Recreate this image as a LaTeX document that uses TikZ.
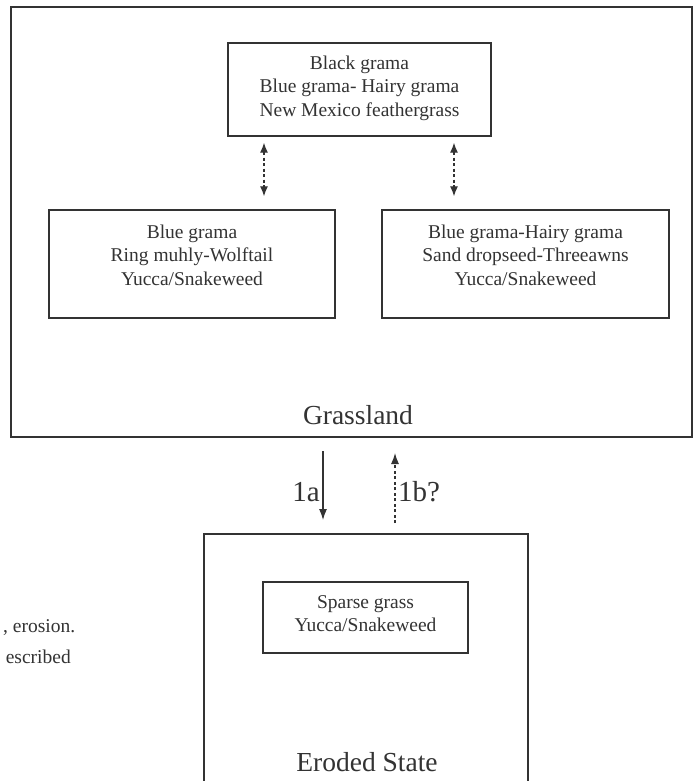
\documentclass[tikz,border=0pt]{standalone}
\usepackage{fontspec}
\setmainfont{Liberation Serif}
\usetikzlibrary{arrows.meta}
\definecolor{ink}{HTML}{333333}
\tikzset{
  bigbox/.style={draw=ink, line width=2pt, inner sep=0pt},
  smallbox/.style={draw=ink, line width=1.4pt, inner sep=0pt},
  txt/.style={text=ink, align=center, font=\fontsize{19.5}{23.5}\selectfont, inner sep=0pt},
  title/.style={text=ink, font=\fontsize{27.5}{30}\selectfont, inner sep=0pt},
  tip/.style={},
  dasharr/.style={draw=ink, line width=1.2pt, dash pattern=on 3pt off 2.5pt, {Latex[length=10pt,width=8pt,sep=0pt]}-{Latex[length=10pt,width=8pt]}},
  solidarr/.style={draw=ink, line width=1.2pt, -{Latex[length=11pt,width=8pt]}},
  dashup/.style={draw=ink, line width=1.2pt, dash pattern=on 3pt off 2.5pt, -{Latex[length=11pt,width=8pt]}}
}
\begin{document}
\begin{tikzpicture}[x=1pt,y=-1pt]
\useasboundingbox (0,0) rectangle (694,781);
\clip (0,0) rectangle (694,781);
\fill[white] (0,0) rectangle (694,781);
% Grassland state
\node[bigbox, minimum width=681pt, minimum height=430pt] (grass) at (351.5,222) {};
\node[title] (grasslabel) at (358,415) {Grassland};
\node[smallbox, minimum width=263pt, minimum height=93pt] (top) at (359.5,89.5) {};
\node[txt] (toptext) at (359.5,88) {Black grama\\Blue grama- Hairy grama\\New Mexico feathergrass};
\node[smallbox, minimum width=286pt, minimum height=108pt] (left) at (192,264) {};
\node[txt] (lefttext) at (192,255) {Blue grama\\Ring muhly-Wolftail\\Yucca/Snakeweed};
\node[smallbox, minimum width=287pt, minimum height=108pt] (right) at (525.5,264) {};
\node[txt] (righttext) at (525.5,255) {Blue grama-Hairy grama\\Sand dropseed-Threeawns\\Yucca/Snakeweed};
\coordinate (xl) at (264,0);
\coordinate (xr) at (454,0);
\draw[dasharr, shorten <=6pt, shorten >=13pt] (top.south -| xl) -- (left.north -| xl);
\draw[dasharr, shorten <=6pt, shorten >=13pt] (top.south -| xr) -- (right.north -| xr);
% Eroded state
\node[bigbox, minimum width=324pt, minimum height=280pt, anchor=north west] (eroded) at (203,533) {};
\node[smallbox, minimum width=205pt, minimum height=71pt] (inner) at (365.5,617.5) {};
\node[txt] (innertext) at (365.5,613.5) {Sparse grass\\Yucca/Snakeweed};
\node[title] (erodedlabel) at (367,762) {Eroded State};
% transitions
\coordinate (xa) at (323,0);
\coordinate (xb) at (395,0);
\draw[solidarr, shorten <=13pt, shorten >=13pt] (grass.south -| xa) -- (eroded.north -| xa);
\draw[dashup, shorten <=10pt, shorten >=15pt] (eroded.north -| xb) -- (grass.south -| xb);
\node[title, anchor=east, font=\fontsize{29}{32}\selectfont] (la) at (320,492) {1a};
\node[title, anchor=west, font=\fontsize{29}{32}\selectfont] (lb) at (398,492) {1b?};
% cut-off side text
\node[txt, anchor=west] (side1) at (3,628) {, erosion.};
\node[txt, anchor=east] (side2) at (71,657) {escribed};
\end{tikzpicture}
\end{document}
